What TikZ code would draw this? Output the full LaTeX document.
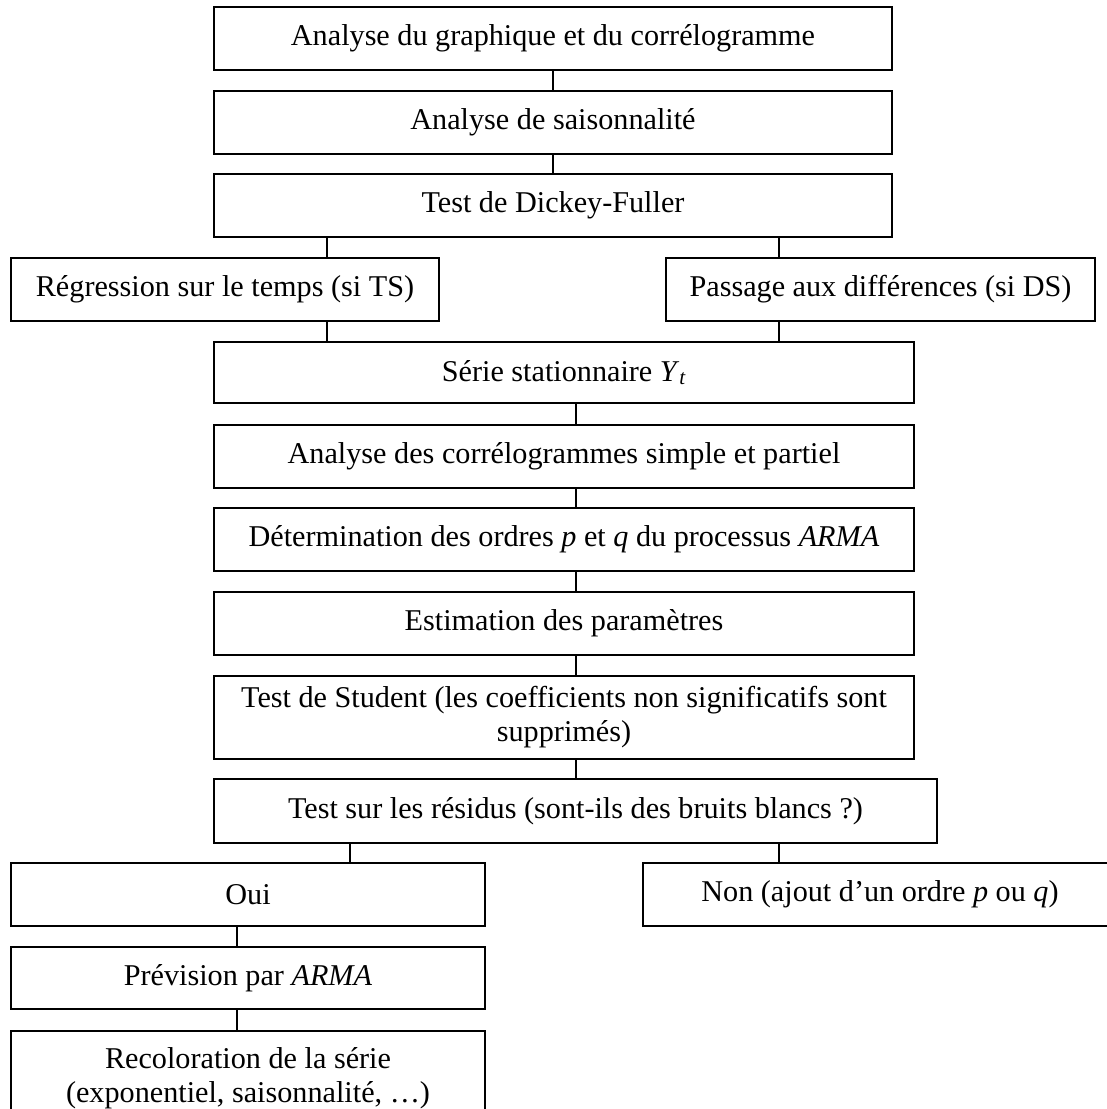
\documentclass[tikz,border=0pt]{standalone}
\usepackage{fontspec}
\setmainfont{Liberation Serif}
\usepackage{tikz}

\begin{document}
\begin{tikzpicture}
 [x=1pt, y=-1pt,
  wide box/.style={draw, line width=1.3pt, rectangle, align=center, inner sep=2pt,
    font=\fontsize{30.2}{34}\selectfont},
  side box/.style={wide box, minimum width=474pt, minimum height=63pt},
  link/.style={draw, line width=1.3pt}]

\useasboundingbox (0,0) rectangle (1107,1109);
\clip (0,0) rectangle (1107,1109);

\node[wide box, minimum width=678pt, minimum height=63pt] (b1) at (553,38.5) {Analyse du graphique et du corrélogramme};
 \node[wide box, minimum width=678pt, minimum height=63pt] (b2) at (553,122.5) {Analyse de saisonnalité};
 \node[wide box, minimum width=678pt, minimum height=63pt] (b3) at (553,205.5) {Test de Dickey-Fuller};

\node[wide box, minimum width=428pt, minimum height=63pt] (reg) at (225,289.5) {Régression sur le temps (si TS)};
\node[wide box, minimum width=429pt, minimum height=63pt] (pass) at (880.5,289.5) {Passage aux différences (si DS)};

 \node[wide box, minimum width=700pt, minimum height=61pt] (b5) at (564,372.5) {Série stationnaire \textit{Y}\textsubscript{\textit{t}}};
 \node[wide box, minimum width=700pt, minimum height=63pt] (b6) at (564,456.5) {Analyse des corrélogrammes simple et partiel};
 \node[wide box, minimum width=700pt, minimum height=63pt] (b7) at (564,539.5) {Détermination des ordres \textit{p} et \textit{q} du processus \textit{ARMA}};
 \node[wide box, minimum width=700pt, minimum height=63pt] (b8) at (564,623.5) {Estimation des paramètres};
 \node[wide box, minimum width=700pt, minimum height=83pt] (b9) at (564,717.5) {Test de Student (les coefficients non significatifs sont\\ supprimés)};
 \node[wide box, minimum width=723pt, minimum height=64pt] (b10) at (575.5,811) {Test sur les résidus (sont-ils des bruits blancs ?)};

\node[side box] (oui) at (248,894.5) {Oui};
\node[side box] (non) at (880,894.5) {Non (ajout d’un ordre \textit{p} ou \textit{q})};
\node[side box, minimum height=62pt] (prev) at (248,978) {Prévision par \textit{ARMA}};
\node[side box, minimum height=95pt] (rec) at (248,1078.5) {Recoloration de la série\\ (exponentiel, saisonnalité, …)};

\path
  (b1.south) edge [link] (b2.north)
  (b2.south) edge [link] (b3.north)

  (b3.south -| 327,0) edge [link] (reg.north -| 327,0)
  (b3.south -| 779,0) edge [link] (pass.north -| 779,0)
  (reg.south -| 327,0) edge [link] (b5.north -| 327,0)
  (pass.south -| 779,0) edge [link] (b5.north -| 779,0)

  (b5.south -| 576,0) edge [link] (b6.north -| 576,0)
  (b6.south -| 576,0) edge [link] (b7.north -| 576,0)
  (b7.south -| 576,0) edge [link] (b8.north -| 576,0)
  (b8.south -| 576,0) edge [link] (b9.north -| 576,0)
  (b9.south -| 576,0) edge [link] (b10.north -| 576,0)

  (b10.south -| 350,0) edge [link] (oui.north -| 350,0)
  (b10.south -| 779,0) edge [link] (non.north -| 779,0)
  (oui.south -| 237,0) edge [link] (prev.north -| 237,0)
  (prev.south -| 237,0) edge [link] (rec.north -| 237,0);

\end{tikzpicture}
\end{document}
